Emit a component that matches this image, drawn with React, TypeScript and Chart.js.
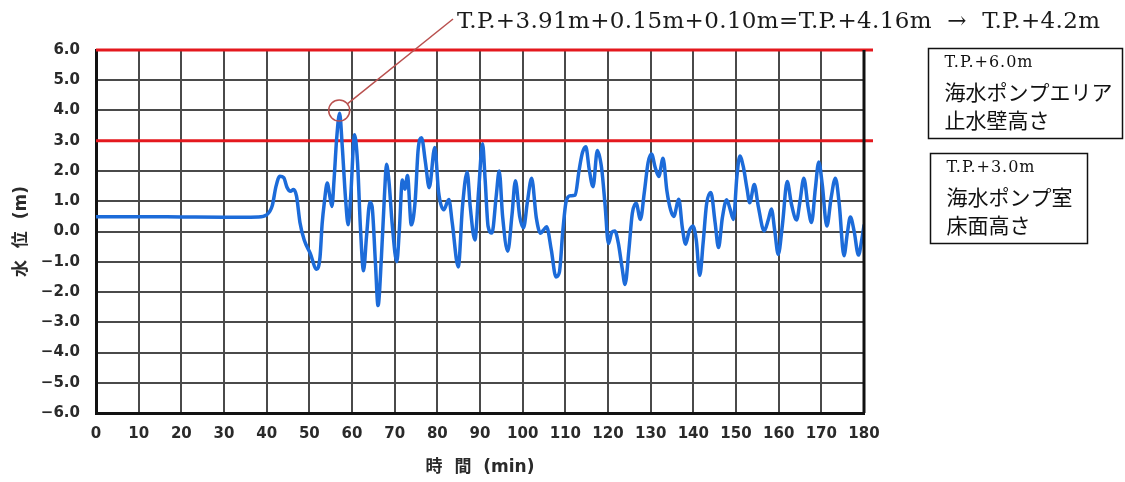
import { useEffect, useRef } from 'react';
import { Chart, registerables } from 'chart.js';

Chart.register(...registerables);

// ---- data ----
const timeMin = [
  0, 10, 20, 30, 38, 40, 41.3, 42.2, 43.1, 44,
  44.8, 45.6, 46.3, 47, 47.8, 48.8, 50.2, 51.7, 52.5, 53,
  53.5, 54.2, 54.8, 55.3, 55.8, 56.4, 57.1, 57.7, 58.5, 59.1,
  59.7, 60.6, 61.3, 62, 62.7, 63.4, 64.2, 64.7, 65.5, 66.1,
  66.9, 67.6, 68.1, 68.7, 69.4, 70.5, 71.1, 71.8, 72.4, 73,
  73.9, 74.8, 75.5, 76.3, 77.2, 78.1, 79.4, 80.3, 81.5, 82.7,
  83.5, 84.9, 85.9, 87, 87.7, 88.8, 89.7, 90.6, 91.2, 91.9,
  92.8, 93.8, 94.5, 95.3, 96.5, 97.5, 98.3, 99.3, 100.2, 101.1,
  102.1, 103.2, 104.2, 104.9, 105.6, 106.7, 107.8, 108.6, 109.4, 110.2,
  111.2, 112.3, 113.2, 114, 114.8, 115.6, 116.5, 117.5, 118.5, 119.3,
  120.1, 120.9, 121.6, 122.4, 123.3, 124, 124.9, 125.7, 126.6, 127.6,
  128.5, 129.4, 130.2, 131.1, 131.9, 132.9, 133.8, 134.7, 135.4, 136.6,
  137.4, 138.2, 139, 139.9, 140.7, 141.5, 142.3, 143.1, 144.1, 145.1,
  145.9, 146.8, 147.8, 148.6, 149.4, 150.2, 150.9, 151.7, 152.6, 153.2,
  154.3, 155.2, 156.6, 157.6, 158.3, 159.1, 159.9, 160.9, 162, 163,
  164.2, 165, 165.9, 166.9, 167.7, 168.6, 169.4, 170.2, 171.3, 172.3,
  173.3, 174.2, 175.3, 176.1, 176.8, 177.7, 178.7, 179.5, 180,
];

const waterLevel = [
  0.49, 0.49, 0.48, 0.47, 0.48, 0.55, 0.85, 1.5, 1.83, 1.78,
  1.45, 1.33, 1.39, 1.17, 0.3, -0.28, -0.72, -1.25, -0.85, 0.25,
  0.94, 1.6, 1.17, 0.83, 1.72, 3.06, 3.91, 2.85, 1.06, 0.22,
  1.17, 3.2, 2.28, 0.06, -1.3, -0.17, 0.97, 0.83, -1.06, -2.45,
  -0.83, 1.17, 2.22, 1.6, 0.28, -1.0, 0.06, 1.7, 1.4, 1.85,
  0.22, 1.0, 2.7, 3.1, 2.3, 1.45, 2.78, 1.3, 0.72, 1.06,
  0.28, -1.17, 0.83, 1.97, 0.83, -0.28, 1.39, 2.9, 1.72, 0.17,
  -0.05, 1.17, 2.0, 0.5, -0.65, 0.55, 1.68, 0.5, 0.12, 0.97,
  1.76, 0.45, -0.06, 0.05, 0.16, -0.6, -1.5, -1.35, 0.0, 1.0,
  1.18, 1.2, 2.0, 2.6, 2.8, 2.05, 1.48, 2.68, 2.1, 0.9,
  -0.4, -0.02, 0.02, -0.37, -1.2, -1.75, -0.6, 0.6, 0.93, 0.4,
  1.28, 2.28, 2.56, 2.1, 1.82, 2.42, 1.35, 0.7, 0.5, 1.07,
  0.15, -0.42, 0.0, 0.18, -0.3, -1.45, -0.37, 0.9, 1.29, 0.3,
  -0.53, 0.45, 1.05, 0.75, 0.4, 1.8, 2.5, 2.15, 1.4, 0.95,
  1.55, 0.85, 0.02, 0.4, 0.74, 0.0, -0.76, 0.25, 1.65, 0.9,
  0.38, 1.0, 1.76, 0.8, 0.3, 1.42, 2.3, 1.57, 0.18, 1.12,
  1.76, 0.9, -0.8, -0.05, 0.48, 0.0, -0.78, -0.25, 0.2,
];

const xRange = [0, 180];
const xStep = 10;
const yRange = [-6, 6];
const yStep = 1;
const referenceLevels = [6.0, 3.0];
const peakMarker = [57.0, 4.0];

const xTitle = '時  間  (min)';
const yTitle = '水  位  (m)';
const peakNote = 'T.P.+3.91m+0.15m+0.10m=T.P.+4.16m  →  T.P.+4.2m';
const boxUpper = ['T.P.+6.0m', '海水ポンプエリア', '止水壁高さ'];
const boxLower = ['T.P.+3.0m', '海水ポンプ室', '床面高さ'];

const SANS = '"DejaVu Sans", "Noto Sans CJK JP", sans-serif';
const SERIF = '"DejaVu Serif", "Noto Sans CJK JP", serif';
const CJK = '"Noto Sans CJK JP", sans-serif';

const overlayPlugin = {
  id: 'overlay',
  beforeDatasetsDraw(chart: any) {
    const { ctx, chartArea: a, scales } = chart;
    const y = scales.y;
    ctx.save();
    ctx.strokeStyle = '#e4181e';
    ctx.lineWidth = 3;
    for (const lv of referenceLevels) {
      const py = y.getPixelForValue(lv);
      ctx.beginPath();
      ctx.moveTo(a.left, py);
      ctx.lineTo(a.right + 9, py);
      ctx.stroke();
    }
    ctx.restore();
  },
  afterDraw(chart: any) {
    const { ctx, chartArea: a, scales } = chart;
    const x = scales.x;
    const y = scales.y;
    ctx.save();
    // right frame
    ctx.strokeStyle = '#111';
    ctx.lineWidth = 3;
    ctx.beginPath();
    ctx.moveTo(a.right, a.top);
    ctx.lineTo(a.right, a.bottom);
    ctx.stroke();

    // peak circle + leader
    const cx = x.getPixelForValue(peakMarker[0]);
    const cy = y.getPixelForValue(peakMarker[1]);
    const r = 10.5;
    ctx.strokeStyle = '#b9504e';
    ctx.lineWidth = 1.5;
    ctx.beginPath();
    ctx.arc(cx, cy, r, 0, Math.PI * 2);
    ctx.stroke();
    const ex = 453, ey = 19;
    const dx = ex - cx, dy = ey - cy;
    const len = Math.hypot(dx, dy);
    ctx.beginPath();
    ctx.moveTo(cx + (dx / len) * r, cy + (dy / len) * r);
    ctx.lineTo(ex, ey);
    ctx.stroke();

    // peak note text
    ctx.fillStyle = '#1a1a1a';
    ctx.textBaseline = 'alphabetic';
    ctx.textAlign = 'left';
    ctx.font = `23px ${SERIF}`;
    const w = ctx.measureText(peakNote).width;
    const target = 1100 - 457;
    const ls = (target - w) / (peakNote.length - 1);
    (ctx as any).letterSpacing = `${ls}px`;
    ctx.fillText(peakNote, 457, 28);
    (ctx as any).letterSpacing = '0px';

    // boxes
    const drawBox = (bx: number, by: number, bw: number, bh: number, lines: string[]) => {
      ctx.strokeStyle = '#111';
      ctx.lineWidth = 1.5;
      ctx.strokeRect(bx, by, bw, bh);
      ctx.fillStyle = '#111';
      ctx.font = `16px ${SERIF}`;
      (ctx as any).letterSpacing = '1px';
      ctx.fillText(lines[0], bx + 16, by + 18.5);
      (ctx as any).letterSpacing = '0px';
      ctx.font = `21px ${CJK}`;
      ctx.fillText(lines[1], bx + 16, by + 51);
      ctx.fillText(lines[2], bx + 16, by + 79);
    };
    drawBox(928.5, 48.5, 194, 90, boxUpper);
    drawBox(930.5, 153.5, 157, 90, boxLower);
    ctx.restore();
  },
};

export default function App() {
  const ref = useRef<HTMLCanvasElement>(null);
  useEffect(() => {
    const canvas = ref.current;
    if (!canvas) return;
    const points = timeMin.map((t, i) => ({ x: t, y: waterLevel[i] }));
    const chart = new Chart(canvas, {
      type: 'line',
      data: {
        datasets: [
          {
            data: points,
            borderColor: '#1c6bd9',
            borderWidth: 3.5,
            pointRadius: 0,
            fill: false,
            cubicInterpolationMode: 'monotone',
            borderJoinStyle: 'round',
            borderCapStyle: 'round',
          },
        ],
      },
      options: {
        responsive: false,
        animation: false,
        devicePixelRatio: 1,
        layout: { padding: { left: 0, right: 261, top: 50, bottom: 0 } },
        plugins: { legend: { display: false }, tooltip: { enabled: false } },
        scales: {
          x: {
            type: 'linear',
            min: xRange[0],
            max: xRange[1],
            ticks: {
              stepSize: xStep,
              autoSkip: false,
              maxRotation: 0,
              padding: 12,
              color: '#2a2a2a',
              font: { family: SANS, size: 15, weight: 'bold' },
            },
            grid: { color: '#4a4a4a', lineWidth: 2, drawTicks: false },
            border: { color: '#111', width: 3 },
            title: {
              display: true,
              text: xTitle,
              color: '#2a2a2a',
              font: { family: SANS, size: 17, weight: 'bold' },
              padding: { top: 0, bottom: 4 },
            },
            afterFit: (s: any) => { s.height = 69; },
          },
          y: {
            type: 'linear',
            min: yRange[0],
            max: yRange[1],
            ticks: {
              stepSize: yStep,
              padding: 16,
              color: '#2a2a2a',
              font: { family: SANS, size: 15, weight: 'bold' },
              callback: (v: any) => Number(v).toFixed(1).replace('-', '\u2212'),
            },
            grid: { color: '#4a4a4a', lineWidth: 2, drawTicks: false },
            border: { color: '#111', width: 3 },
            title: {
              display: true,
              text: yTitle,
              color: '#2a2a2a',
              font: { family: SANS, size: 17, weight: 'bold' },
              padding: { top: 11, bottom: 0 },
            },
            afterFit: (s: any) => { s.width = 96; },
          },
        },
      },
      plugins: [overlayPlugin],
    } as any);
    return () => chart.destroy();
  }, []);
  return (
    <div style={{ position: 'absolute', left: 0, top: 0, width: 1125, height: 482, background: '#fff' }}>
      <canvas ref={ref} width={1125} height={482} style={{ display: 'block', width: 1125, height: 482 }} />
    </div>
  );
}
